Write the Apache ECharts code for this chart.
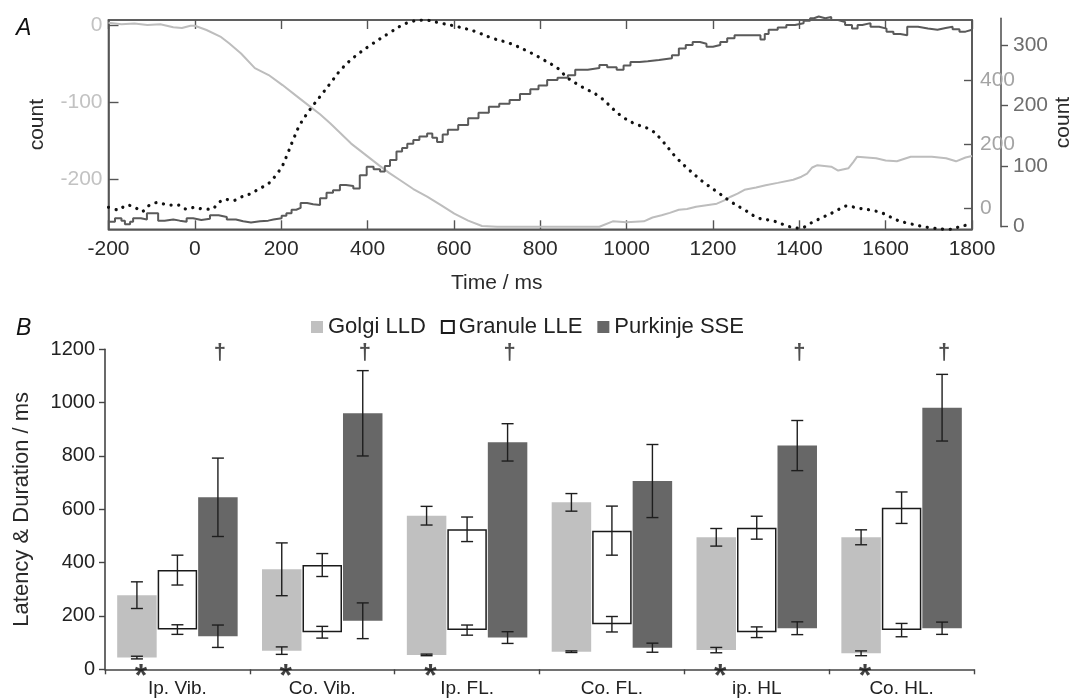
<!DOCTYPE html>
<html>
<head>
<meta charset="utf-8">
<script src="https://cdn.jsdelivr.net/npm/echarts@6/dist/echarts.min.js"></script>
<style>
  html, body { margin: 0; padding: 0; background: #fff; }
  #chart { width: 1073px; height: 698px; }
</style>
</head>
<body>
<div id="chart"></div>
<script>
// ---------- Panel A: cumulative count traces over time ----------
// light grey trace (left axis)
const lightT = [-200,-170,-140,-110,-80,-50,-30,-10,0,27,59,80,107,139,171,203,235,267,290,314,338,362,394,426,450,474,506,538,570,601,633,665,700,750,800,850,900,937,968,1000,1040,1060,1081,1100,1121,1140,1161,1185,1209,1225,1241,1257,1273,1300,1322,1350,1386,1405,1418,1430,1442,1474,1490,1514,1525,1534,1578,1600,1626,1658,1707,1740,1763,1785,1800];
const lightCount = [3,1,2,0,1,-3,-4,-1,-1,-6.5,-15,-24,-37,-56,-65,-78,-92,-106,-116,-128,-141,-154,-168,-182,-192,-201,-213,-223,-234,-245,-254,-261,-262,-262,-262,-262,-262,-262,-255,-256,-255,-250,-247,-244,-240,-239,-236,-234,-232,-228,-223,-219,-214,-211,-208,-205,-201,-197,-193,-185,-182,-184,-189,-186,-178,-171,-173,-176,-177,-171,-171,-173,-177,-172,-170];

// dark grey stepped trace (outer right axis)
const darkT = [-200,-185,-170,-162,-150,-143,-125,-111,-96,-85,-70,-50,-35,-19,-4,15,35,55,74,95,112,130,151,170,182,201,212,224,235,245,260,274,290,305,320,336,350,367,382,398,414,429,440,452,467,480,492,506,520,538,550,561,574,586,610,633,657,681,705,729,753,777,796,816,840,864,881,910,937,955,977,993,1009,1030,1049,1075,1105,1121,1137,1153,1170,1185,1200,1217,1233,1250,1275,1297,1310,1320,1329,1350,1370,1390,1410,1425,1434,1445,1460,1474,1490,1506,1522,1535,1546,1565,1585,1602,1618,1634,1650,1675,1698,1720,1739,1755,1771,1785,1800];
const darkCount = [8,14,10,4,8,14,12,22,22,10,12,10,8,14,11,13,19,16,12,9,7,9,10,12,14,18,22,28,31,39,37,36,47,56,60,69,67,63,85,99,95,91,100,110,124,130,137,143,149,154,147,140,152,160,168,179,188,198,203,209,219,227,233,242,246,250,259,262,267,263,259,266,272,273,275,278,283,294,300,305,302,297,300,305,311,316,316,316,309,318,325,329,333,336,340,344,347,344,346,341,338,333,327,333,336,330,327,322,318,316,330,327,325,328,330,326,322,325,327];

// dotted trace (inner right axis)
const dotT = [-200,-177,-158,-139,-123,-108,-85,-62,-38,-19,0,20,39,54,70,89,105,132,147,166,178,190,201,213,227,243,266,290,314,338,370,410,450,490,530,570,609,649,689,729,777,808,840,864,896,937,985,1017,1057,1081,1113,1145,1177,1209,1241,1273,1306,1338,1378,1402,1426,1458,1482,1510,1538,1570,1594,1626,1658,1698,1747,1779,1800];
const dotCount = [3,-5,10,3,-11,7,18,10,10,-3,3,-3,-3,16,28,24,34,47,60,73,87,108,128,165,212,261,308,350,392,434,475,514,549,580,590,580,569,554,533,517,488,465,439,408,381,350,292,266,245,214,162,120,83,52,21,-5,-31,-39,-58,-63,-47,-26,-11,7,0,-7,-16,-37,-49,-60,-66,-55,-52];

const leftTicks = [0, -100, -200];
const innerTicks = [0, 200, 400];
const outerTicks = [0, 100, 200, 300];

// ---------- Panel B: latency and end of response per condition ----------
const conditions = ['Ip. Vib.', 'Co. Vib.', 'Ip. FL.', 'Co. FL.', 'ip. HL', 'Co. HL.'];

const golgiLatency = [44, 70, 54, 66, 72, 60];
const golgiDuration = [234, 305, 522, 560, 423, 435];
const golgiLatencyErr = [5, 14, 3, 3, 10, 9];
const golgiEndErr = [50, 99, 35, 33, 33, 28];

const granuleLatency = [149, 139, 147, 169, 139, 147];
const granuleDuration = [223, 252, 378, 351, 392, 459];
const granuleLatencyErr = [18, 22, 19, 29, 20, 25];
const granuleEndErr = [56, 43, 46, 92, 43, 59];

const purkinjeLatency = [124, 182, 119, 81, 154, 154];
const purkinjeDuration = [521, 778, 732, 625, 685, 827];
const purkinjeLatencyErr = [42, 67, 22, 17, 24, 23];
const purkinjeEndErr = [147, 160, 70, 137, 94, 125];

const daggerConditions = [0, 1, 2, 4, 5];
const asteriskConditions = [0, 1, 2, 4, 5];

// ---------- drawing ----------
const FONT = "'Liberation Sans', Arial, Helvetica, sans-serif";
const BAR_W = 39.5;
const BAR_STEP = 40.5;        // bar width plus the small gap between neighbours
const DAGGER_LEVEL = 1186;

const zip = (xs, ys) => xs.map((x, i) => [x, ys[i]]);
const plain = v => String(v);

function errorBars(k, lat, dur, latErr, endErr) {
  return {
    type: 'custom',
    xAxisIndex: 3, yAxisIndex: 3,
    silent: true,
    z: 5,
    data: lat.map((l, i) => [i, l, latErr[i], l + dur[i], endErr[i]]),
    encode: { x: 0, y: [1, 3] },
    renderItem: function (params, api) {
      const cat = api.value(0);
      const x = api.coord([cat, 0])[0] + k * BAR_STEP;
      const cap = 6;
      const children = [];
      [[api.value(1), api.value(2)], [api.value(3), api.value(4)]].forEach(function (pair) {
        const yTop = api.coord([cat, pair[0] + pair[1]])[1];
        const yBot = api.coord([cat, pair[0] - pair[1]])[1];
        const st = { stroke: '#1e1e1e', lineWidth: 1.4 };
        children.push({ type: 'line', shape: { x1: x, y1: yTop, x2: x, y2: yBot }, style: st });
        children.push({ type: 'line', shape: { x1: x - cap, y1: yTop, x2: x + cap, y2: yTop }, style: st });
        children.push({ type: 'line', shape: { x1: x - cap, y1: yBot, x2: x + cap, y2: yBot }, style: st });
      });
      return { type: 'group', children: children };
    }
  };
}

function floatingBar(name, stack, lat, dur, style) {
  return [
    {
      type: 'bar', name: stack + '-base', stack: stack,
      xAxisIndex: 3, yAxisIndex: 3, silent: true,
      barWidth: BAR_W, barGap: '2.5%',
      itemStyle: { color: 'rgba(0,0,0,0)' },
      data: lat
    },
    {
      type: 'bar', name: name, stack: stack,
      xAxisIndex: 3, yAxisIndex: 3,
      barWidth: BAR_W, barGap: '2.5%',
      itemStyle: style,
      data: dur
    }
  ];
}

const axisDark = { onZero: false, lineStyle: { color: '#555', width: 1.6 } };

const option = {
  animation: false,
  backgroundColor: '#fff',
  textStyle: { fontFamily: FONT },
  title: [
    { text: 'A', left: 11, top: 12, textStyle: { fontFamily: FONT, fontStyle: 'italic', fontWeight: 'normal', fontSize: 23, color: '#111' } },
    { text: 'B', left: 11, top: 312, textStyle: { fontFamily: FONT, fontStyle: 'italic', fontWeight: 'normal', fontSize: 23, color: '#111' } }
  ],
  legend: {
    left: 306, top: 311,
    itemWidth: 12, itemHeight: 12, itemGap: 15,
    icon: 'rect',
    textStyle: { fontFamily: FONT, fontSize: 22, color: '#222' },
    data: ['Golgi LLD', 'Granule LLE', 'Purkinje SSE']
  },
  grid: [
    { left: 108.5, right: 101, top: 20, height: 209.3, outerBoundsMode: 'none', show: true, borderColor: '#555', borderWidth: 1.6, backgroundColor: 'transparent' },
    { left: 108.5, right: 101, top: 18.3, height: 208.4, outerBoundsMode: 'none' },
    { left: 105, right: 99, top: 349.3, height: 320, outerBoundsMode: 'none' }
  ],
  xAxis: [
    {
      gridIndex: 0, type: 'value', position: 'bottom',
      min: -200, max: 1800, interval: 200,
      axisLine: axisDark,
      axisTick: { inside: true, length: 9, lineStyle: { color: '#555', width: 1.4 } },
      axisLabel: { fontSize: 21, color: '#2a2a2a', margin: 9, fontFamily: FONT, formatter: plain },
      splitLine: { show: false },
      name: 'Time / ms', nameLocation: 'middle', nameGap: 43,
      nameTextStyle: { fontSize: 21, color: '#2a2a2a', fontFamily: FONT, padding: [0, 87, 0, 0] }
    },
    {
      gridIndex: 0, type: 'value', position: 'top',
      min: -200, max: 1800, interval: 200,
      axisLine: axisDark,
      axisTick: { inside: true, length: 9, lineStyle: { color: '#555', width: 1.4 } },
      axisLabel: { show: false },
      splitLine: { show: false }
    },
    {
      gridIndex: 1, type: 'value', show: false, min: -200, max: 1800
    },
    {
      gridIndex: 2, type: 'category', data: conditions,
      boundaryGap: true,
      axisLine: { onZero: false, lineStyle: { color: '#444', width: 1.6 } },
      axisTick: { show: true, interval: 0, length: 5, lineStyle: { color: '#444', width: 1.4 } },
      axisLabel: { fontSize: 19, color: '#222', margin: 10, fontFamily: FONT, interval: 0 }
    }
  ],
  yAxis: [
    {
      gridIndex: 0, type: 'value', position: 'left',
      min: -265.3, max: 6.5,
      axisLine: axisDark,
      axisTick: { inside: true, length: 10, customValues: leftTicks, lineStyle: { color: '#555', width: 1.4 } },
      axisLabel: { fontSize: 21, color: '#c2c2c2', margin: 6, fontFamily: FONT, customValues: leftTicks, formatter: plain },
      splitLine: { show: false },
      name: 'count', nameLocation: 'middle', nameGap: 61, nameRotate: 90,
      nameTextStyle: { fontSize: 21, color: '#2a2a2a', fontFamily: FONT }
    },
    {
      gridIndex: 0, type: 'value', position: 'right',
      min: -66, max: 590,
      axisLine: axisDark,
      axisTick: { inside: true, length: 8, customValues: innerTicks, lineStyle: { color: '#555', width: 1.4 } },
      axisLabel: { fontSize: 21, color: '#a4a4a4', margin: 8, fontFamily: FONT, customValues: innerTicks, formatter: plain },
      splitLine: { show: false }
    },
    {
      gridIndex: 1, type: 'value', position: 'right', offset: 29,
      min: 0, max: 344,
      axisLine: { show: true, onZero: false, lineStyle: { color: '#555', width: 1.6 } },
      axisTick: { show: true, inside: false, length: 7, customValues: outerTicks, lineStyle: { color: '#555', width: 1.4 } },
      axisLabel: { fontSize: 21, color: '#6e6e6e', margin: 12, fontFamily: FONT, customValues: outerTicks, formatter: plain },
      splitLine: { show: false },
      name: 'count', nameLocation: 'middle', nameGap: 52, nameRotate: 90, nameMoveOverlap: false,
      nameTextStyle: { fontSize: 21, color: '#2a2a2a', fontFamily: FONT }
    },
    {
      gridIndex: 2, type: 'value',
      min: 0, max: 1200, interval: 200,
      axisLine: { show: true, onZero: false, lineStyle: { color: '#444', width: 1.6 } },
      axisTick: { show: true, length: 6, lineStyle: { color: '#444', width: 1.4 } },
      axisLabel: { fontSize: 20, color: '#222', margin: 10, fontFamily: FONT, formatter: plain },
      splitLine: { show: false },
      name: 'Latency & Duration / ms', nameLocation: 'middle', nameGap: 72, nameRotate: 90,
      nameTextStyle: { fontSize: 22, color: '#2a2a2a', fontFamily: FONT }
    }
  ],
  series: [
    {
      type: 'line', xAxisIndex: 0, yAxisIndex: 0,
      data: zip(lightT, lightCount),
      showSymbol: false, silent: true,
      lineStyle: { color: '#bdbdbd', width: 2 },
      z: 2
    },
    {
      type: 'line', xAxisIndex: 2, yAxisIndex: 2,
      data: zip(darkT, darkCount),
      step: 'end', showSymbol: false, silent: true, clip: false,
      lineStyle: { color: '#5a5a5a', width: 2 },
      z: 3
    },
    {
      type: 'line', xAxisIndex: 0, yAxisIndex: 1,
      data: zip(dotT, dotCount),
      smooth: 0.35, showSymbol: false, silent: true,
      lineStyle: { color: '#111', width: 3.2, type: [0.1, 7.6], cap: 'round' },
      z: 4
    },
    ...floatingBar('Golgi LLD', 'golgi', golgiLatency, golgiDuration, { color: '#c0c0c0' }),
    ...floatingBar('Granule LLE', 'granule', granuleLatency, granuleDuration, { color: '#ffffff', borderColor: '#1a1a1a', borderWidth: 1.5 }),
    ...floatingBar('Purkinje SSE', 'purkinje', purkinjeLatency, purkinjeDuration, { color: '#676767' }),
    errorBars(-1, golgiLatency, golgiDuration, golgiLatencyErr, golgiEndErr),
    errorBars(0, granuleLatency, granuleDuration, granuleLatencyErr, granuleEndErr),
    errorBars(1, purkinjeLatency, purkinjeDuration, purkinjeLatencyErr, purkinjeEndErr),
    {
      type: 'scatter', xAxisIndex: 3, yAxisIndex: 3, silent: true,
      symbolSize: 0,
      data: daggerConditions.map(i => [i, DAGGER_LEVEL]),
      label: { show: true, formatter: '\u2020', position: 'inside', offset: [BAR_STEP + 2, 0], fontSize: 22, fontWeight: 'bold', color: '#222', fontFamily: FONT },
      z: 6
    },
    {
      type: 'scatter', xAxisIndex: 3, yAxisIndex: 3, silent: true,
      symbolSize: 0,
      data: asteriskConditions.map(i => [i, 0]),
      label: { show: true, formatter: '*', position: 'inside', offset: [-BAR_STEP + 4, 8], fontSize: 32, fontWeight: 'bold', color: '#111', fontFamily: FONT },
      z: 6
    }
  ]
};

const chart = echarts.init(document.getElementById('chart'), null, { renderer: 'canvas' });
chart.setOption(option);
</script>
</body>
</html>
